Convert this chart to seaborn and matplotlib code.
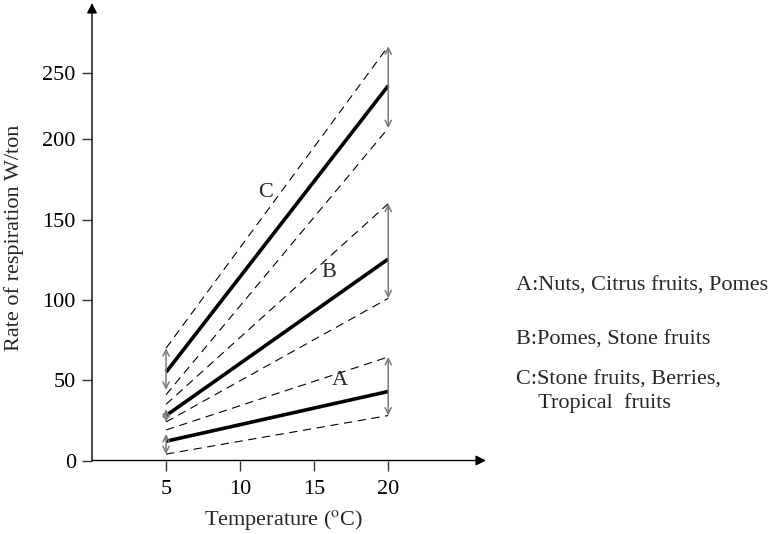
import pandas as pd
import seaborn as sns
import matplotlib.pyplot as plt

# temperatures (oC) at both ends of each band
temps = [5, 20]

# respiration rate W/ton: central line, upper and lower bound
groups = ["A", "B", "C"]
mid = {"A": [12, 43], "B": [28, 125.5], "C": [55, 233.5]}
upper = {"A": [19, 64.5], "B": [35, 160], "C": [70, 258]}
lower = {"A": [4, 28], "B": [24, 101], "C": [41, 207]}

# range arrows (low, high) at 5 and 20 oC
arrow_5 = {"A": (4, 16.5), "B": (24, 32), "C": (44, 70)}
arrow_20 = {"A": (28, 64.5), "B": (101, 160), "C": (207, 258)}

# label positions of A/B/C
label_x = {"A": 16.7, "B": 16.0, "C": 11.7}
label_y = {"A": 50, "B": 117, "C": 167}

legend_lines = ["A:Nuts, Citrus fruits, Pomes", "B:Pomes, Stone fruits",
                "C:Stone fruits, Berries,", "    Tropical  fruits"]

x_ticks = [5, 10, 15, 20]
y_ticks = [0, 50, 100, 150, 200, 241.5]
y_tick_labels = ["0", "50", "100", "150", "200", "250"]

sns.set_style("white")
plt.rcParams["font.family"] = ["Liberation Serif", "DejaVu Serif"]
plt.rcParams["mathtext.fontset"] = "stix"

rows = []
for g in groups:
    for kind, d in (("mid", mid), ("upper", upper), ("lower", lower)):
        for t, v in zip(temps, d[g]):
            rows.append({"group": g, "kind": kind, "temp": t, "rate": v})
df = pd.DataFrame(rows)

fig = plt.figure(figsize=(7.74, 5.34), dpi=100)
ax = fig.add_axes([92 / 774, (534 - 460.5) / 534, 394 / 774, 457.5 / 534])

for g in groups:
    sub = df[df.group == g]
    for kind in ("upper", "lower"):
        sns.lineplot(data=sub[sub.kind == kind], x="temp", y="rate", ax=ax,
                     color="black", linewidth=0.8, dashes=False,
                     linestyle=(0, (7.5, 5)))
    sns.lineplot(data=sub[sub.kind == "mid"], x="temp", y="rate", ax=ax,
                 color="black", linewidth=2.6, solid_capstyle="butt")
    for t, (lo, hi) in ((5, arrow_5[g]), (20, arrow_20[g])):
        ax.annotate("", xy=(t, hi), xytext=(t, lo),
                    arrowprops=dict(arrowstyle="<->", color="#7a7a7a", lw=1.1,
                                    shrinkA=0, shrinkB=0, mutation_scale=11))
    ax.text(label_x[g], label_y[g], g, fontsize=16, ha="center", va="center")

ax.set_xlim(0, 26.6)
ax.set_ylim(0, 285)
sns.despine(ax=ax, left=True, bottom=True)
ax.annotate("", xy=(26.6, 0), xytext=(0, 0), annotation_clip=False,
            arrowprops=dict(arrowstyle="-|>", color="black", lw=1.0,
                            shrinkA=0, shrinkB=0, mutation_scale=15))
ax.annotate("", xy=(0, 285), xytext=(0, 0), annotation_clip=False,
            arrowprops=dict(arrowstyle="-|>", color="black", lw=1.0,
                            shrinkA=0, shrinkB=0, mutation_scale=15))

ax.set_xticks(x_ticks)
ax.set_yticks(y_ticks)
ax.set_yticklabels(y_tick_labels)
ax.tick_params(axis="both", direction="out", length=7.2, width=1.0,
               colors="#333333", labelcolor="black", labelsize=16,
               left=True, bottom=True)
ax.tick_params(axis="x", pad=7)
ax.tick_params(axis="y", pad=4.5)
ax.set_xlabel("Temperature ($^{\\mathrm{o}}$C)", fontsize=16)
ax.set_ylabel("Rate of respiration W/ton", fontsize=16)
ax.xaxis.set_label_coords(0.485, -0.104)
ax.yaxis.set_label_coords(-0.173, 0.486)

legend_y = [286, 340, 380, 403]
for txt, py in zip(legend_lines, legend_y):
    fig.text(516 / 774, 1 - py / 534, txt, fontsize=16, ha="left", va="center")

fig.savefig("out.png", dpi=100)
